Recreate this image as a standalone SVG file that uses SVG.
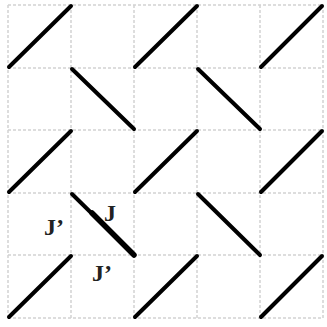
<svg xmlns="http://www.w3.org/2000/svg" width="327" height="327" viewBox="0 0 327 327">
<style>
.grid{stroke:#d2d2d2;stroke-width:1.5;stroke-dasharray:3 2;fill:none}
.bond{stroke:#000;stroke-width:4;stroke-linecap:round;fill:none}
.bold{stroke:#000;stroke-width:5.5;stroke-linecap:round;fill:none}
.lbl{font-family:"Liberation Serif","Times New Roman",serif;font-weight:bold;font-size:24px;fill:#222}
</style>
<rect width="327" height="327" fill="#fff"/>
<g id="grid">
<path class="grid" d="M8 5V318M71 5V318M134 5V318M197 5V318M260 5V318M323 5V318"/>
<path class="grid" d="M8 5H323M8 68H323M8 130H323M8 193H323M8 255H323M8 318H323"/>
</g>
<g id="connectors">
<line class="bond" x1="9" y1="67" x2="71" y2="6"/>
<line class="bond" x1="135" y1="67" x2="197" y2="6"/>
<line class="bond" x1="261" y1="67" x2="322" y2="6"/>
<line class="bond" x1="72" y1="69" x2="134" y2="129"/>
<line class="bond" x1="198" y1="69" x2="260" y2="129"/>
<line class="bond" x1="9" y1="192" x2="71" y2="131"/>
<line class="bond" x1="135" y1="192" x2="197" y2="131"/>
<line class="bond" x1="261" y1="192" x2="322" y2="131"/>
<line class="bond" x1="72" y1="194" x2="134" y2="255"/>
<line class="bold" x1="92" y1="213" x2="134" y2="255"/>
<line class="bond" x1="198" y1="194" x2="260" y2="255"/>
<line class="bond" x1="9" y1="317" x2="71" y2="256"/>
<line class="bond" x1="135" y1="317" x2="197" y2="256"/>
<line class="bond" x1="261" y1="317" x2="322" y2="256"/>
</g>
<g id="labels">
<text class="lbl" x="44" y="235">J’</text>
<text class="lbl" x="104" y="221">J</text>
<text class="lbl" x="92" y="281">J’</text>
</g>
</svg>
